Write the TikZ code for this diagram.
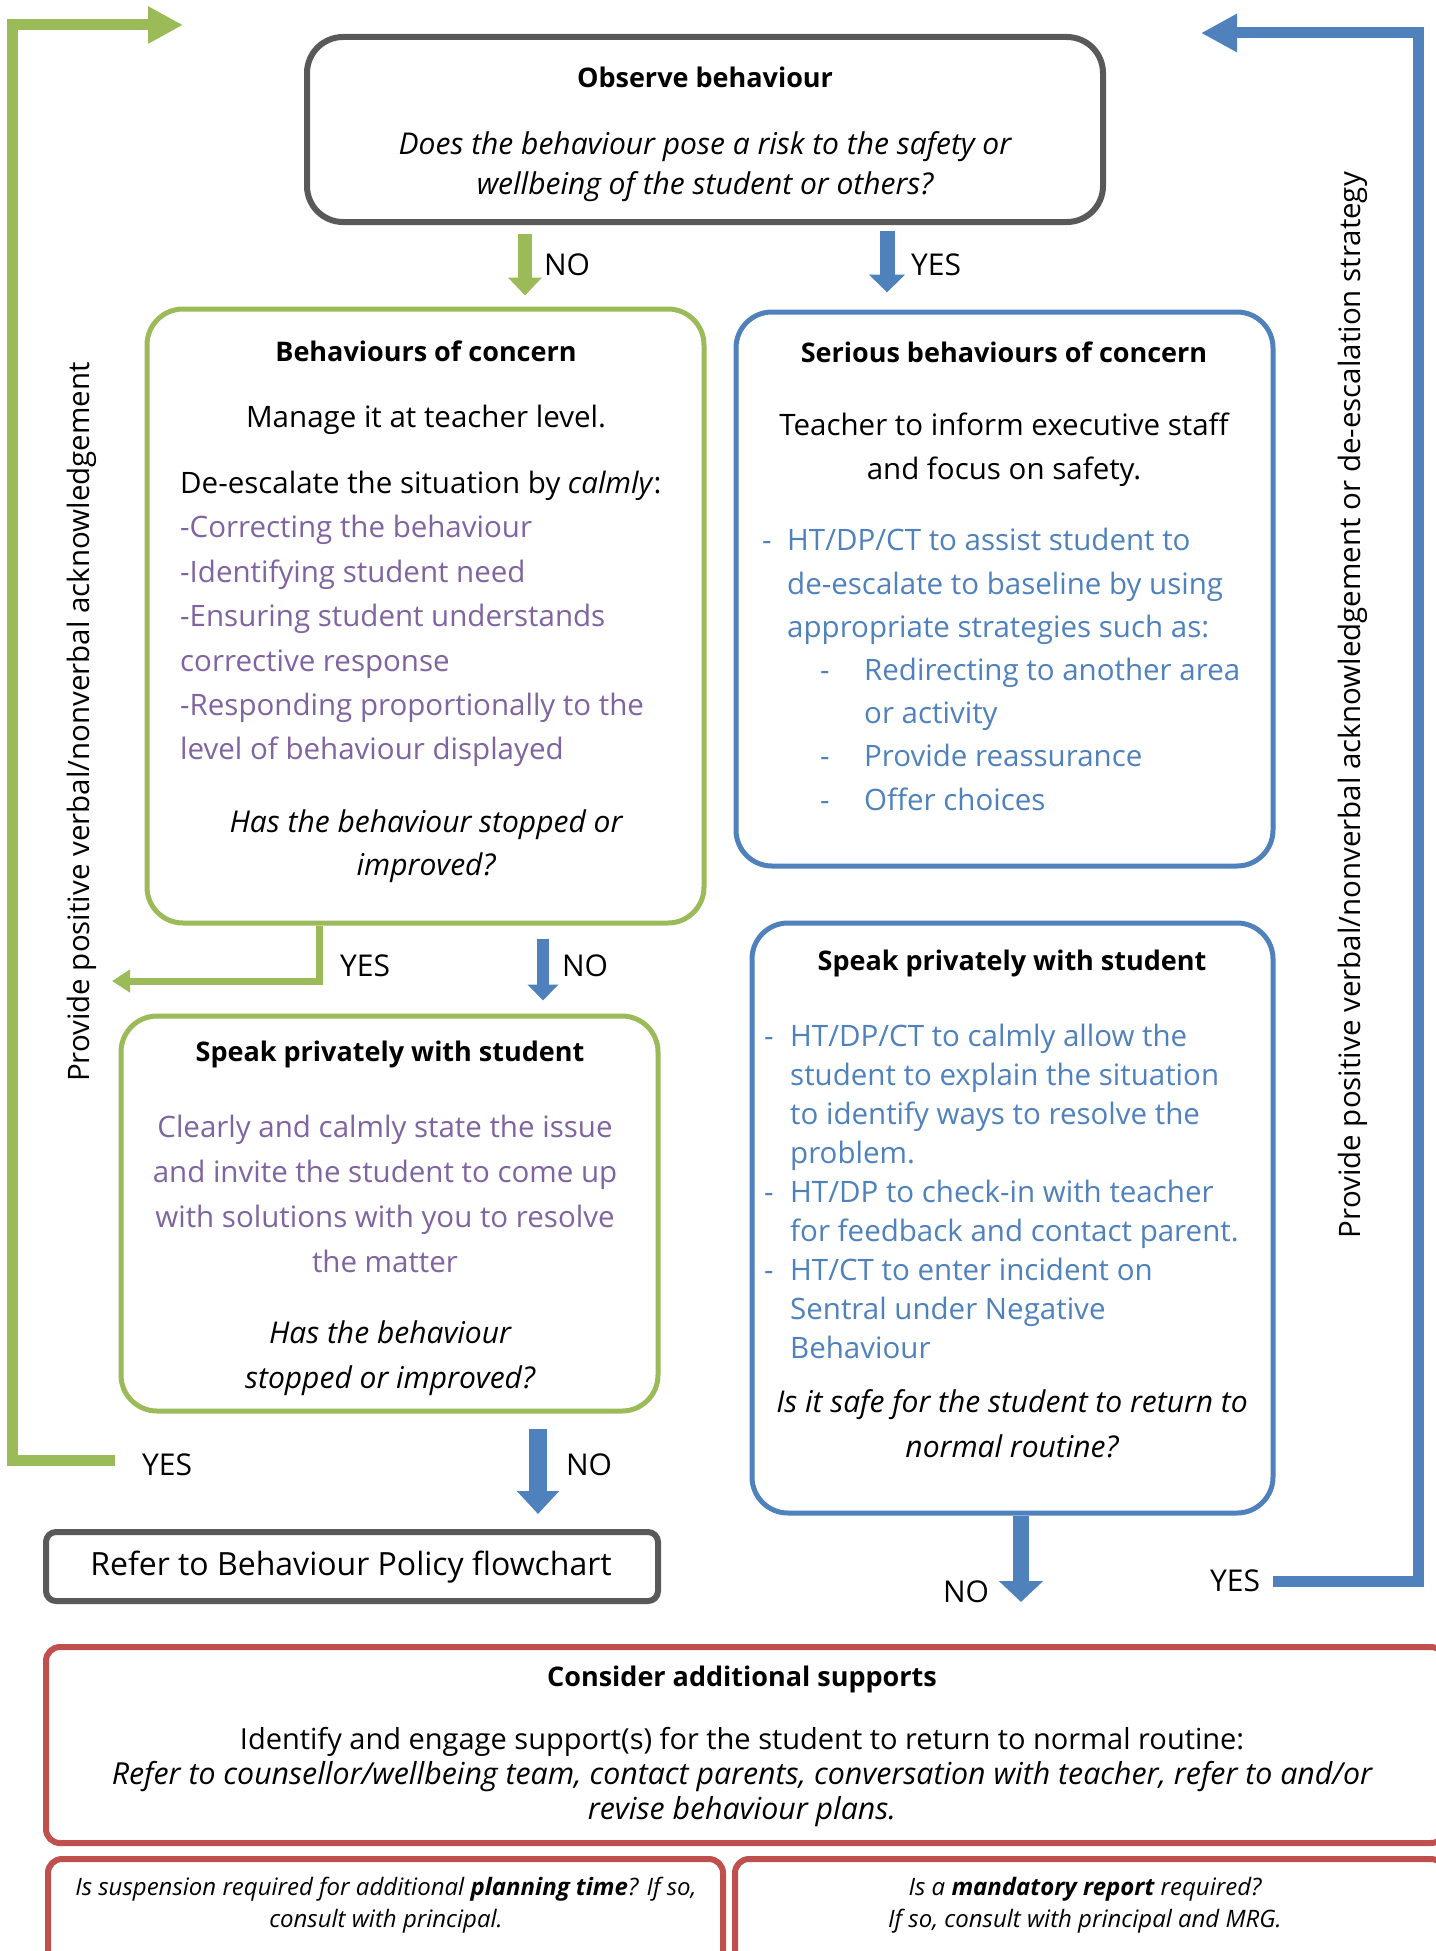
\documentclass[tikz,border=0pt]{standalone}
\usepackage{fontspec}
\setmainfont{Open Sans}
\usetikzlibrary{arrows.meta}
\definecolor{gr}{HTML}{9BBB59}
\definecolor{bl}{HTML}{4F81BD}
\definecolor{pu}{HTML}{8064A2}
\definecolor{rd}{HTML}{C0504D}
\definecolor{gy}{HTML}{595959}
\tikzset{
  box/.style={draw=#1, fill=white, rounded corners=36, line width=5, inner sep=0},
  txt/.style={inner sep=0, font=\fontsize{29.5}{44}\selectfont},
  ttl/.style={inner sep=0, font=\fontsize{27}{30}\selectfont\bfseries},
  lab/.style={inner sep=0, font=\fontsize{30}{32}\selectfont},
  blockarrow/.style args={#1/#2/#3/#4}{draw=#1, line width=#2, -{Triangle[width=#3, length=#4]}},
}
\begin{document}
\begin{tikzpicture}[x=1pt,y=-1pt]
\useasboundingbox (0,0) rectangle (1435,1951);

% ---------- boxes ----------
\node[box=gy, line width=6, minimum width=796, minimum height=185] (obs) at (705,129.5) {};
\node[box=gr, minimum width=557, minimum height=614] (boc) at (425.5,616) {};
\node[box=bl, minimum width=537, minimum height=554] (sboc) at (1004.5,589) {};
\node[box=gr, minimum width=537, minimum height=395] (spk1) at (389.5,1213.5) {};
\node[box=bl, minimum width=521, minimum height=590] (spk2) at (1012.5,1218) {};
\node[box=gy, rounded corners=10, line width=6, minimum width=612, minimum height=69] (refer) at (352,1566.5) {};
\node[box=rd, rounded corners=14, line width=6, minimum width=1399, minimum height=196] (cons) at (745.5,1745) {};
\node[box=rd, rounded corners=14, line width=6, minimum width=675, minimum height=140] (plan) at (385.5,1929) {};
\node[box=rd, rounded corners=14, line width=6, minimum width=710, minimum height=140] (mand) at (1090,1929) {};

% ---------- texts ----------
\node[ttl] (obsT) at (705,77) {Observe behaviour};
\node[txt, align=center, font=\fontsize{30}{40}\selectfont\itshape] (obsQ) at (705,167)
  {Does the behaviour pose a risk to the safety or\\wellbeing of the student or others?};

\node[ttl] (bocT) at (426,351) {Behaviours of concern};
\node[txt] (bocM) at (426,420) {Manage it at teacher level.};
\node[txt, align=left, anchor=west, font=\fontsize{29.5}{44.4}\selectfont] (bocL) at (180,619)
  {De-escalate the situation by \textit{calmly}:\\
   \textcolor{pu}{-Correcting the behaviour}\\
   \textcolor{pu}{-Identifying student need}\\
   \textcolor{pu}{-Ensuring student understands}\\
   \textcolor{pu}{corrective response}\\
   \textcolor{pu}{-Responding proportionally to the}\\
   \textcolor{pu}{level of behaviour displayed}};
\node[txt, align=center, font=\fontsize{30}{43}\selectfont\itshape] (bocQ) at (426,846.5)
  {Has the behaviour stopped or\\improved?};

\node[ttl] (sbocT) at (1004,352) {Serious behaviours of concern};
\node[txt, align=center] (sbocM) at (1004,450) {Teacher to inform executive staff\\and focus on safety.};
\node[txt, align=left, anchor=west, text=bl, font=\fontsize{29.5}{43.2}\selectfont] (sbocL) at (762,669.5)
  {\makebox[25pt][l]{-}HT/DP/CT to assist student to\\
   \hspace*{25pt}de-escalate to baseline by using\\
   \hspace*{25pt}appropriate strategies such as:\\
   \hspace*{58pt}\makebox[44pt][l]{-}Redirecting to another area\\
   \hspace*{102pt}or activity\\
   \hspace*{58pt}\makebox[44pt][l]{-}Provide reassurance\\
   \hspace*{58pt}\makebox[44pt][l]{-}Offer choices};

\node[ttl] (spk1T) at (390,1054) {Speak privately with student};
\node[txt, align=center, text=pu, font=\fontsize{29.5}{45}\selectfont] (spk1M) at (385,1193.5)
  {Clearly and calmly state the issue\\and invite the student to come up\\with solutions with you to resolve\\the matter};
\node[txt, align=center, font=\fontsize{30}{45}\selectfont\itshape] (spk1Q) at (390,1358.5)
  {Has the behaviour\\stopped or improved?};

\node[ttl] (spk2T) at (1012,963) {Speak privately with student};
\node[txt, align=left, anchor=west, text=bl, font=\fontsize{29.5}{39}\selectfont] (spk2L) at (764,1191)
  {\makebox[26pt][l]{-}HT/DP/CT to calmly allow the\\
   \hspace*{26pt}student to explain the situation\\
   \hspace*{26pt}to identify ways to resolve the\\
   \hspace*{26pt}problem.\\
   \makebox[26pt][l]{-}HT/DP to check-in with teacher\\
   \hspace*{26pt}for feedback and contact parent.\\
   \makebox[26pt][l]{-}HT/CT to enter incident on\\
   \hspace*{26pt}Sentral under Negative\\
   \hspace*{26pt}Behaviour};
\node[txt, align=center, font=\fontsize{30}{45}\selectfont\itshape] (spk2Q) at (1012,1423.5)
  {Is it safe for the student to return to\\normal routine?};

\node[txt, font=\fontsize{32}{34}\selectfont] (referT) at (351,1567) {Refer to Behaviour Policy flowchart};

\node[ttl] (consT) at (742,1679) {Consider additional supports};
\node[txt, align=center, font=\fontsize{29}{35}\selectfont] (consM) at (742,1742)
  {Identify and engage support(s) for the student to return to normal routine:};
\node[txt, align=center, font=\fontsize{30.3}{35}\selectfont\itshape] (consI) at (742,1794.5)
  {Refer to counsellor/wellbeing team, contact parents, conversation with teacher, refer to and/or\\
   revise behaviour plans.};

\node[txt, align=center, font=\fontsize{24}{32}\selectfont\itshape] (planT) at (386,1905)
  {Is suspension required for additional \textbf{planning time}? If so,\\consult with principal.};
\node[txt, align=center, font=\fontsize{24}{32}\selectfont\itshape] (mandT) at (1085,1905)
  {Is a \textbf{mandatory report} required?\\If so, consult with principal and MRG.};

\node[txt, rotate=90] (lside) at (82,722) {Provide positive verbal/nonverbal acknowledgement};
\node[txt, rotate=90] (rside) at (1353,705) {Provide positive verbal/nonverbal acknowledgement or de-escalation strategy};

% ---------- labels ----------
\node[lab] (l1) at (567,265) {NO};
\node[lab] (l2) at (936,265) {YES};
\node[lab] (l3) at (365,966) {YES};
\node[lab] (l4) at (585,966) {NO};
\node[lab] (l5) at (167,1465) {YES};
\node[lab] (l6) at (589,1465) {NO};
\node[lab] (l7) at (966,1592) {NO};
\node[lab] (l8) at (1235,1581) {YES};

% ---------- helper coordinates ----------
\coordinate (x1) at (525,0);
\coordinate (x2) at (887,0);
\coordinate (x3) at (543,0);
\coordinate (x4) at (319,0);
\coordinate (x5) at (538,0);
\coordinate (x6) at (1021,0);
\coordinate (gyes) at (112,981);
\coordinate (noEnd) at (1021,1602);
\coordinate (gl0) at (115,1460);
\coordinate (gl1) at (12,1460);
\coordinate (gl2) at (12,25);
\coordinate (gl3) at (183,25);
\coordinate (bl0) at (1273,1581);
\coordinate (bl1) at (1418,1581);
\coordinate (bl2) at (1418,33);
\coordinate (bl3) at (1201,33);

% ---------- connectors ----------
\draw[blockarrow=gr/14/33/18, shorten <=9, shorten >=11] (obs.south -| x1) -- (boc.north -| x1);
\draw[blockarrow=bl/15/35/18, shorten <=6, shorten >=17] (obs.south -| x2) -- (sboc.north -| x2);
\draw[blockarrow=bl/12/30/16, shorten <=13, shorten >=13] (boc.south -| x3) -- (spk1.north -| x3);
\draw[blockarrow=gr/7/22/18, line join=miter] (boc.south -| x4) |- (gyes);
\draw[blockarrow=bl/18/41/23, shorten <=15, shorten >=15] (spk1.south -| x5) -- (refer.north -| x5);
\draw[blockarrow=bl/16/43/21] (spk2.south -| x6) -- (noEnd);
\draw[blockarrow=gr/11/35/35, line join=miter] (gl0) -- (gl1) -- (gl2) -- (gl3);
\draw[blockarrow=bl/11/36/36, line join=miter] (bl0) -- (bl1) -- (bl2) -- (bl3);
\end{tikzpicture}
\end{document}
